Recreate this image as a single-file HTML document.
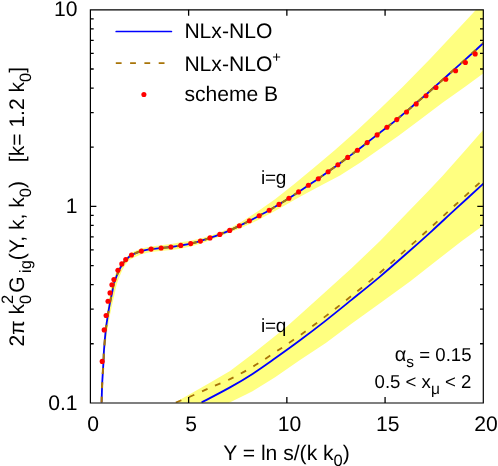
<!DOCTYPE html>
<html><head><meta charset="utf-8"><title>plot</title>
<style>html,body{margin:0;padding:0;background:#fff;}body{width:498px;height:466px;overflow:hidden;}svg{display:block;will-change:transform;}text{font-family:"Liberation Sans",sans-serif;fill:#000;text-rendering:geometricPrecision;}</style>
</head><body>
<svg width="498" height="466" viewBox="0 0 498 466">
<rect x="0" y="0" width="498" height="466" fill="#fff"/>
<defs><clipPath id="c"><rect x="90.4" y="9.8" width="392.9" height="393.0"/></clipPath></defs>
<g clip-path="url(#c)">
<path d="M101.3 402.5 L101.8 383.6 L103.0 361.4 L103.4 350.0 L104.8 329.9 L106.5 315.5 L108.7 301.2 L110.3 292.8 L111.6 284.8 L113.3 279.5 L117.0 270.4 L120.6 264.0 L124.2 259.7 L131.0 252.8 L141.2 248.5 L151.0 246.4 L161.0 245.2 L171.0 244.0 L180.6 242.3 L190.7 240.7 L200.4 238.5 L210.0 235.7 L219.8 232.2 L229.7 228.2 L241.1 222.0 L257.2 211.8 L275.0 199.3 L294.3 184.0 L313.6 168.0 L335.0 149.9 L357.5 129.9 L380.1 108.8 L402.6 87.0 L430.0 59.0 L455.8 31.6 L475.8 9.9 L483.5 1.5 L483.5 73.2 L465.1 86.7 L442.5 102.8 L420.0 119.7 L398.6 135.8 L379.3 149.3 L360.0 162.8 L340.0 175.4 L320.0 186.0 L300.0 196.8 L275.0 211.0 L257.2 220.5 L241.1 228.0 L229.7 232.6 L219.8 236.6 L210.0 240.2 L200.4 243.8 L190.7 246.6 L180.6 248.7 L171.0 249.9 L161.0 250.9 L151.0 252.0 L141.4 254.2 L133.0 258.0 L129.1 260.2 L125.5 264.5 L121.9 270.9 L118.2 280.0 L116.5 285.3 L114.8 293.3 L112.8 301.7 L109.8 316.0 L107.3 330.4 L105.0 350.5 L104.3 361.9 L102.7 384.1 L101.9 403.0Z" fill="#ffff80"/>
<path d="M175.1 402.5 L189.3 394.4 L208.6 383.4 L230.0 370.9 L252.5 354.1 L275.1 336.1 L287.1 326.3 L300.0 314.7 L325.8 291.5 L351.5 268.2 L380.0 241.1 L405.8 214.3 L428.1 191.3 L442.5 176.1 L465.1 150.5 L483.5 129.6 L483.5 225.3 L461.5 241.3 L435.8 261.3 L410.0 281.4 L380.0 303.2 L351.5 323.8 L325.8 343.0 L300.0 360.0 L275.1 377.3 L252.5 391.2 L245.0 395.1 L227.0 403.8Z" fill="#ffff80"/>
<path d="M201.50 402.50 C206.25 399.98 221.50 392.14 230.00 387.37 C238.50 382.60 244.98 378.74 252.50 373.90 C260.02 369.06 267.18 363.90 275.10 358.30 C283.02 352.70 291.56 346.58 300.00 340.30 C308.44 334.02 317.17 327.33 325.75 320.60 C334.33 313.87 342.46 307.23 351.50 299.90 C360.54 292.57 370.96 284.20 380.00 276.60 C389.04 269.00 397.17 261.85 405.75 254.30 C414.33 246.75 423.17 238.87 431.50 231.30 C439.83 223.73 447.10 216.83 455.75 208.90 C464.40 200.97 478.79 187.90 483.40 183.70" fill="none" stroke="#0000ff" stroke-width="1.8"/>
<path d="M175.80 402.50 C178.05 401.58 183.83 399.35 189.30 397.00 C194.77 394.65 201.82 391.39 208.60 388.40 C215.38 385.41 222.68 382.65 230.00 379.07 C237.32 375.49 244.98 371.36 252.50 366.90 C260.02 362.44 267.18 357.57 275.10 352.30 C283.02 347.03 291.56 341.33 300.00 335.30 C308.44 329.27 317.17 322.67 325.75 316.10 C334.33 309.53 342.46 303.13 351.50 295.90 C360.54 288.67 370.96 280.37 380.00 272.70 C389.04 265.03 397.17 257.55 405.75 249.90 C414.33 242.25 423.17 234.37 431.50 226.80 C439.83 219.23 447.10 212.42 455.75 204.50 C464.40 196.58 478.79 183.50 483.40 179.30" fill="none" stroke="#a87408" stroke-width="1.8" stroke-dasharray="6 8.28"/>
<path d="M101.60 402.50 C101.70 399.35 101.88 390.46 102.20 383.60 C102.52 376.74 103.20 366.95 103.50 361.35 C103.80 355.75 103.62 355.24 104.00 350.00 C104.38 344.76 105.17 335.65 105.80 329.90 C106.43 324.15 107.05 320.28 107.80 315.50 C108.55 310.72 109.58 304.98 110.30 301.20 C111.02 297.42 111.55 295.53 112.10 292.80 C112.65 290.07 113.07 287.02 113.60 284.80 C114.13 282.58 114.40 281.90 115.30 279.50 C116.20 277.10 117.78 272.98 119.00 270.40 C120.22 267.82 121.40 265.78 122.60 264.00 C123.80 262.22 124.72 261.20 126.20 259.70 C127.68 258.20 128.97 256.44 131.50 255.00 C134.03 253.56 138.14 252.03 141.40 251.05 C144.66 250.07 147.78 249.61 151.05 249.10 C154.33 248.59 157.74 248.35 161.05 248.00 C164.36 247.65 167.62 247.43 170.90 247.00 C174.18 246.57 177.45 246.02 180.75 245.45 C184.05 244.88 187.42 244.32 190.70 243.60 C193.97 242.88 197.18 242.05 200.40 241.10 C203.62 240.15 206.77 239.02 210.00 237.90 C213.23 236.78 216.52 235.65 219.80 234.40 C223.08 233.15 226.42 231.83 229.70 230.40 C232.97 228.97 236.16 227.39 239.45 225.80 C242.74 224.21 246.15 222.53 249.45 220.85 C252.75 219.17 255.95 217.47 259.25 215.70 C262.55 213.93 265.96 212.13 269.25 210.25 C272.54 208.37 275.73 206.40 279.00 204.40 C282.27 202.40 285.58 200.33 288.85 198.25 C292.12 196.17 295.33 194.07 298.60 191.90 C301.87 189.73 305.17 187.46 308.45 185.25 C311.73 183.04 315.03 180.92 318.30 178.65 C321.57 176.38 324.78 173.98 328.05 171.65 C331.32 169.32 334.62 167.07 337.90 164.70 C341.17 162.32 344.44 159.82 347.70 157.40 C350.96 154.98 354.19 152.67 357.45 150.20 C360.71 147.72 363.98 145.10 367.25 142.55 C370.52 140.00 373.78 137.44 377.05 134.90 C380.32 132.36 383.62 129.85 386.90 127.30 C390.18 124.75 395.11 120.92 396.75 119.60 C398.39 118.28 395.12 120.77 396.75 119.40 C398.38 118.03 403.26 114.13 406.50 111.40 C409.74 108.67 412.95 105.80 416.20 103.00 C419.45 100.20 422.70 97.48 426.00 94.60 C429.30 91.72 432.70 88.63 436.00 85.70 C439.30 82.77 442.53 79.92 445.80 77.00 C449.07 74.08 452.38 71.13 455.65 68.20 C458.92 65.27 462.19 62.33 465.45 59.40 C468.71 56.47 472.19 53.33 475.20 50.60 C478.21 47.87 482.12 44.27 483.50 43.00" fill="none" stroke="#0000ff" stroke-width="1.8"/>
<path d="M101.60 402.50 C101.70 399.35 101.88 390.46 102.20 383.60 C102.52 376.74 103.20 366.95 103.50 361.35 C103.80 355.75 103.62 355.24 104.00 350.00 C104.38 344.76 105.17 335.65 105.80 329.90 C106.43 324.15 107.05 320.28 107.80 315.50 C108.55 310.72 109.58 304.98 110.30 301.20 C111.02 297.42 111.55 295.53 112.10 292.80 C112.65 290.07 113.07 287.02 113.60 284.80 C114.13 282.58 114.40 281.90 115.30 279.50 C116.20 277.10 117.78 272.98 119.00 270.40 C120.22 267.82 121.40 265.78 122.60 264.00 C123.80 262.22 124.72 261.20 126.20 259.70 C127.68 258.20 128.97 256.44 131.50 255.00 C134.03 253.56 138.14 252.03 141.40 251.05 C144.66 250.07 147.78 249.61 151.05 249.10 C154.33 248.59 157.74 248.35 161.05 248.00 C164.36 247.65 167.62 247.43 170.90 247.00 C174.18 246.57 177.45 246.02 180.75 245.45 C184.05 244.88 187.42 244.32 190.70 243.60 C193.97 242.88 197.18 242.05 200.40 241.10 C203.62 240.15 206.77 239.02 210.00 237.90 C213.23 236.78 216.52 235.65 219.80 234.40 C223.08 233.15 226.42 231.83 229.70 230.40 C232.97 228.97 236.16 227.39 239.45 225.80 C242.74 224.21 246.15 222.53 249.45 220.85 C252.75 219.17 255.95 217.47 259.25 215.70 C262.55 213.93 265.96 212.13 269.25 210.25 C272.54 208.37 275.73 206.40 279.00 204.40 C282.27 202.40 285.58 200.33 288.85 198.25 C292.12 196.17 295.33 194.07 298.60 191.90 C301.87 189.73 305.17 187.46 308.45 185.25 C311.73 183.04 315.03 180.92 318.30 178.65 C321.57 176.38 324.78 173.98 328.05 171.65 C331.32 169.32 334.62 167.07 337.90 164.70 C341.17 162.32 344.44 159.82 347.70 157.40 C350.96 154.98 354.19 152.67 357.45 150.20 C360.71 147.72 363.98 145.10 367.25 142.55 C370.52 140.00 373.78 137.44 377.05 134.90 C380.32 132.36 383.62 129.85 386.90 127.30 C390.18 124.75 395.11 120.92 396.75 119.60 C398.39 118.28 395.12 120.77 396.75 119.40 C398.38 118.03 403.26 114.13 406.50 111.40 C409.74 108.67 412.95 105.80 416.20 103.00 C419.45 100.20 422.70 97.48 426.00 94.60 C429.30 91.72 432.70 88.63 436.00 85.70 C439.30 82.77 442.53 79.92 445.80 77.00 C449.07 74.08 452.38 71.13 455.65 68.20 C458.92 65.27 462.19 62.33 465.45 59.40 C468.71 56.47 472.19 53.33 475.20 50.60 C478.21 47.87 482.12 44.27 483.50 43.00" fill="none" stroke="#a87408" stroke-width="2.1" stroke-dasharray="6 8.32"/>
</g>
<circle cx="102.2" cy="361.4" r="2.55" fill="#ff0000"/>
<circle cx="104.2" cy="329.9" r="2.55" fill="#ff0000"/>
<circle cx="106.1" cy="315.5" r="2.55" fill="#ff0000"/>
<circle cx="108.0" cy="301.2" r="2.55" fill="#ff0000"/>
<circle cx="110.0" cy="292.9" r="2.55" fill="#ff0000"/>
<circle cx="111.9" cy="284.8" r="2.55" fill="#ff0000"/>
<circle cx="113.9" cy="279.5" r="2.55" fill="#ff0000"/>
<circle cx="117.9" cy="270.3" r="2.55" fill="#ff0000"/>
<circle cx="121.8" cy="263.9" r="2.55" fill="#ff0000"/>
<circle cx="125.7" cy="259.6" r="2.55" fill="#ff0000"/>
<circle cx="131.5" cy="255.0" r="2.55" fill="#ff0000"/>
<circle cx="141.4" cy="251.1" r="2.55" fill="#ff0000"/>
<circle cx="151.1" cy="249.1" r="2.55" fill="#ff0000"/>
<circle cx="161.1" cy="248.0" r="2.55" fill="#ff0000"/>
<circle cx="170.9" cy="247.0" r="2.55" fill="#ff0000"/>
<circle cx="180.8" cy="245.4" r="2.55" fill="#ff0000"/>
<circle cx="190.7" cy="243.6" r="2.55" fill="#ff0000"/>
<circle cx="200.4" cy="241.1" r="2.55" fill="#ff0000"/>
<circle cx="210.0" cy="237.9" r="2.55" fill="#ff0000"/>
<circle cx="219.8" cy="234.4" r="2.55" fill="#ff0000"/>
<circle cx="229.7" cy="230.4" r="2.55" fill="#ff0000"/>
<circle cx="239.4" cy="225.8" r="2.55" fill="#ff0000"/>
<circle cx="249.4" cy="220.8" r="2.55" fill="#ff0000"/>
<circle cx="259.2" cy="215.7" r="2.55" fill="#ff0000"/>
<circle cx="269.2" cy="210.2" r="2.55" fill="#ff0000"/>
<circle cx="279.0" cy="204.4" r="2.55" fill="#ff0000"/>
<circle cx="288.9" cy="198.2" r="2.55" fill="#ff0000"/>
<circle cx="298.6" cy="191.9" r="2.55" fill="#ff0000"/>
<circle cx="308.4" cy="185.2" r="2.55" fill="#ff0000"/>
<circle cx="318.3" cy="178.7" r="2.55" fill="#ff0000"/>
<circle cx="328.1" cy="171.7" r="2.55" fill="#ff0000"/>
<circle cx="337.9" cy="164.7" r="2.55" fill="#ff0000"/>
<circle cx="347.7" cy="157.4" r="2.55" fill="#ff0000"/>
<circle cx="357.4" cy="150.2" r="2.55" fill="#ff0000"/>
<circle cx="367.2" cy="142.6" r="2.55" fill="#ff0000"/>
<circle cx="377.1" cy="134.9" r="2.55" fill="#ff0000"/>
<circle cx="386.9" cy="127.3" r="2.55" fill="#ff0000"/>
<circle cx="396.8" cy="119.6" r="2.55" fill="#ff0000"/>
<circle cx="406.5" cy="112.0" r="2.55" fill="#ff0000"/>
<circle cx="416.2" cy="103.9" r="2.55" fill="#ff0000"/>
<circle cx="426.0" cy="95.8" r="2.55" fill="#ff0000"/>
<circle cx="436.0" cy="87.5" r="2.55" fill="#ff0000"/>
<circle cx="445.8" cy="79.3" r="2.55" fill="#ff0000"/>
<circle cx="455.6" cy="70.8" r="2.55" fill="#ff0000"/>
<circle cx="465.4" cy="62.5" r="2.55" fill="#ff0000"/>
<circle cx="475.2" cy="53.9" r="2.55" fill="#ff0000"/>
<line x1="116.2" y1="31.5" x2="171.4" y2="31.5" stroke="#0000ff" stroke-width="1.7" stroke-linecap="round"/>
<line x1="115.8" y1="63" x2="171.8" y2="63" stroke="#a87408" stroke-width="1.75" stroke-dasharray="5.8 8.5"/>
<circle cx="143.9" cy="94.5" r="2.55" fill="#ff0000"/>
<path d="M90.40 9.85H483.30M90.40 403.00H483.30M90.40 9.85V403.00M483.30 9.85V403.00" fill="none" stroke="#000" stroke-width="1.2" stroke-linecap="square"/>
<path d="M188.62 402.90V397.10M188.62 9.85V15.65M286.85 402.90V397.10M286.85 9.85V15.65M385.08 402.90V397.10M385.08 9.85V15.65M90.4 343.73H93.7M483.3 343.73H480.0M90.4 309.13H93.7M483.3 309.13H480.0M90.4 284.57H93.7M483.3 284.57H480.0M90.4 265.53H93.7M483.3 265.53H480.0M90.4 249.97H93.7M483.3 249.97H480.0M90.4 236.81H93.7M483.3 236.81H480.0M90.4 225.41H93.7M483.3 225.41H480.0M90.4 215.36H93.7M483.3 215.36H480.0M90.4 206.37H96.4M483.3 206.37H477.3M90.4 147.21H93.7M483.3 147.21H480.0M90.4 112.61H93.7M483.3 112.61H480.0M90.4 88.05H93.7M483.3 88.05H480.0M90.4 69.01H93.7M483.3 69.01H480.0M90.4 53.45H93.7M483.3 53.45H480.0M90.4 40.29H93.7M483.3 40.29H480.0M90.4 28.89H93.7M483.3 28.89H480.0M90.4 18.84H93.7M483.3 18.84H480.0" stroke="#000" stroke-width="1.3" fill="none"/>
<text x="93.0" y="431" font-size="21.1" text-anchor="middle">0</text>
<text x="191.2" y="431" font-size="21.1" text-anchor="middle">5</text>
<text x="289.5" y="431" font-size="21.1" text-anchor="middle">10</text>
<text x="387.8" y="431" font-size="21.1" text-anchor="middle">15</text>
<text x="486.0" y="431" font-size="21.1" text-anchor="middle">20</text>
<text x="77.5" y="16" font-size="21.1" text-anchor="end">10</text>
<text x="77.5" y="213" font-size="21.1" text-anchor="end">1</text>
<text x="77.5" y="410" font-size="21.1" text-anchor="end">0.1</text>
<text x="184.4" y="38" font-size="21.1">NLx-NLO</text>
<text x="184.4" y="71" font-size="21.1">NLx-NLO<tspan dy="-8.6" font-size="14.8">+</tspan></text>
<text x="184.4" y="101" font-size="21.1">scheme B</text>
<text x="261" y="184.4" font-size="19" letter-spacing="-0.3">i=g</text>
<text x="261" y="331.6" font-size="19" letter-spacing="-0.3">i=q</text>
<text x="471.5" y="361" font-size="18.6" text-anchor="end"><tspan font-size="20">α</tspan><tspan dy="5.8" font-size="15.5">s</tspan><tspan dy="-5.8"> = 0.15</tspan></text>
<text x="471.4" y="388" font-size="18.6" text-anchor="end">0.5 &lt; x<tspan dy="5.8" font-size="15.5">μ</tspan><tspan dy="-5.8"> &lt; 2</tspan></text>
<text x="286.5" y="460" font-size="21.1" text-anchor="middle">Y = ln s/(k k<tspan dy="5.9" font-size="16.5">0</tspan><tspan dy="-5.9">)</tspan></text>
<text transform="translate(24,346.6) rotate(-90)" font-size="21.1">2π k<tspan dy="6.9" font-size="16.5">0</tspan><tspan dy="-17.9" dx="-9.17" font-size="16.5">2</tspan><tspan dy="11.0" dx="1.9">G</tspan><tspan dy="6.9" dx="3.4" font-size="16.5">ig</tspan><tspan dy="-6.9">(Y, k, k</tspan><tspan dy="6.9" font-size="16.5">0</tspan><tspan dy="-6.9">)&#160;&#160; </tspan><tspan dx="1.2">[k= 1.2 k</tspan><tspan dy="6.9" font-size="16.5">0</tspan><tspan dy="-6.9">]</tspan></text>
</svg></body></html>
